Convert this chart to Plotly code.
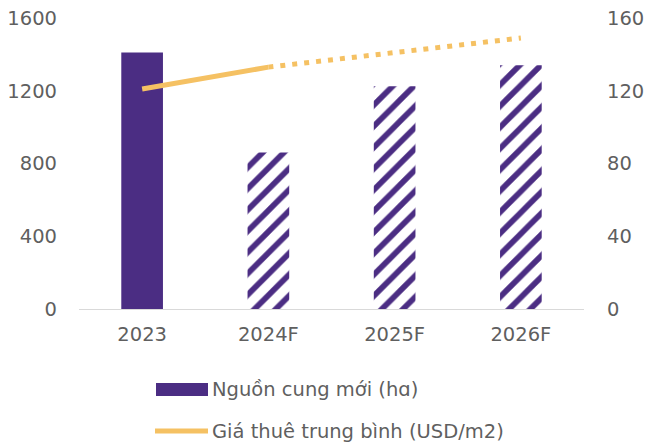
import plotly.graph_objects as go

categories = ["2023", "2024F", "2025F", "2026F"]
supply = [1410, 860, 1225, 1340]
rent_actual = [121, 133, None, None]
rent_forecast = [None, 133, 141, 149]
left_ticks = [0, 400, 800, 1200, 1600]
right_ticks = [0, 40, 80, 120, 160]
supply_label = "Nguồn cung mới (hɑ)"
rent_label = "Giá thuê trung bình (USD/m2)"

PURPLE = "#4B2D83"
ORANGE = "#F5C163"
GREY = "#5f5f5f"
FONT = "DejaVu Sans"
FS = 19.5

# plot area: x 79..584, y 18..309 in the 647x446 window
L, R, T, B = 79, 63, 18, 137
W, H = 647, 446
PW, PH = 505, 291


def px(x):
    return (x - L) / PW


def py(y):
    return (309 - y) / PH


fig = go.Figure()
fig.add_trace(go.Bar(
    x=categories, y=supply, name=supply_label, width=0.33,
    marker=dict(color=PURPLE, line=dict(width=0),
                pattern=dict(shape=["", "/", "/", "/"], fgcolor=PURPLE,
                             bgcolor="white", size=15, solidity=0.38,
                             fillmode="replace")),
    showlegend=False,
))
fig.add_trace(go.Scatter(
    x=categories, y=rent_actual, yaxis="y2", mode="lines",
    line=dict(color=ORANGE, width=5), showlegend=False, connectgaps=False,
))
fig.add_trace(go.Scatter(
    x=categories, y=rent_forecast, yaxis="y2", mode="lines",
    line=dict(color=ORANGE, width=5, dash="5px,7px"), showlegend=False,
))

# manual legend
fig.add_shape(type="rect", xref="paper", yref="paper",
              x0=px(156), x1=px(208), y0=py(396), y1=py(383),
              fillcolor=PURPLE, line=dict(width=0))
fig.add_shape(type="line", xref="paper", yref="paper",
              x0=px(155), x1=px(208), y0=py(431), y1=py(431),
              line=dict(color=ORANGE, width=5))
fig.add_annotation(text=supply_label, xref="paper", yref="paper",
                   x=px(210), y=py(389),
                   xanchor="left", yanchor="middle", showarrow=False,
                   font=dict(family=FONT, size=FS, color=GREY))
fig.add_annotation(text=rent_label, xref="paper", yref="paper",
                   x=px(210), y=py(431),
                   xanchor="left", yanchor="middle", showarrow=False,
                   font=dict(family=FONT, size=FS, color=GREY))

fig.update_layout(
    width=W, height=H,
    margin=dict(l=L, r=R, t=T, b=B, autoexpand=False),
    paper_bgcolor="white", plot_bgcolor="white",
    font=dict(family=FONT, size=FS, color=GREY),
    xaxis=dict(showline=True, linecolor="#D9D9D9", linewidth=1,
               showgrid=False, ticks="", ticklabelstandoff=8,
               tickfont=dict(size=FS, color=GREY)),
    yaxis=dict(range=[0, 1600], tickvals=left_ticks, showgrid=False,
               zeroline=False, showline=False, ticks="",
               ticklabelstandoff=21, ticklabeloverflow="allow",
               tickfont=dict(size=FS, color=GREY)),
    yaxis2=dict(range=[0, 160], tickvals=right_ticks, overlaying="y",
                side="right", showgrid=False, zeroline=False,
                showline=False, ticks="", ticklabelstandoff=22,
                ticklabeloverflow="allow",
                tickfont=dict(size=FS, color=GREY)),
)

fig.write_html("out.html",
               config={"displayModeBar": False},
               post_script="document.body.style.margin='0';"
                           "document.body.style.overflow='hidden';")
